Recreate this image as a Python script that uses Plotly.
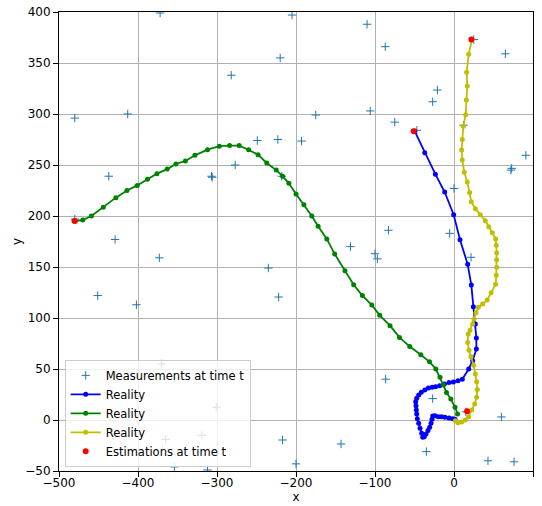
import plotly.graph_objects as go

# Measurements (blue crosses)
meas_x = [-372, -480, -413, -437, -429, -451, -402, -373, -370,
          -307, -306, -282, -277, -249, -223, -220, -205, -193, -175, -218,
          -235, -222, -131, -100, -97, -83, -110, -87, -106, -75, -47, -27, -21,
          65, 25, 12, 91, 73, 72, 0, -5.5, 21.5,
          -86.5, -27, 60, -35, 43, 76, -143, -200, -217, -301, -319, -312,
          -365, -354, -480, 15]
meas_y = [399, 296, 300, 239, 177, 122, 113, 159, 55,
          239, 238, 338, 250, 274, 275, 355, 397, 273.5, 299, 239,
          149, 120.6, 170, 163, 158, 186, 388, 366, 303, 292, 284, 312, 323.5,
          359, 373, 289, 259.5, 246.7, 245, 227, 183, 159.5,
          40, 21, 3, -31, -40, -41, -23.5, -43, -19.6, 12.5, -15, -49,
          -19, -46, 197, 8]

# Reality trajectories
blue_x = [-49.8, -37, -23.6, -11.8, -0.4, 7.6, 17.3, 21.9, 24.5, 27, 28.3, 28.3, 23.6, 18.6,
          10.5, 5, -0.8, -6.3, -12.2, -18.2, -23.3, -27.5, -32.5, -37, -41.4, -44.7, -47.2,
          -48.5, -48.1, -47.7, -47.2, -46.4, -44.7, -43, -40.9, -39.6, -37.6, -35.4, -32.9,
          -30.8, -29.1, -27.8, -27, -24, -19.9, -15.6, -11.4, -6.3, -1.6, 1.3]
blue_y = [283.3, 262, 241, 223.5, 201.3, 176.8, 152.6, 132.4, 111, 94, 80.4, 69.6, 58.2, 50,
          40, 38.6, 37.3, 36.7, 35.3, 33.7, 32.7, 32, 31.4, 29.4, 27.1, 24.5, 21.3,
          18, 14, 9.8, 5.9, 1.3, -3.2, -8.1, -13, -17, -16.3, -13.7, -10.4,
          -7.2, -3.2, 0.7, 4, 4.2, 3.3, 3.3, 2.6, 2, 1.3, 0.7]

green_x = [-481, -470, -459, -444, -428, -414, -401, -388, -376, -363, -352, -340, -328, -312,
           -297, -284, -272, -260, -248, -237, -225, -217, -209, -200, -190, -180, -172, -161,
           -151, -138, -127, -116, -104, -94, -81, -69, -56, -42, -31, -23, -17.7, -13.5,
           -9.5, -4, 1.3, 4.5]
green_y = [195, 196, 200, 208.5, 218, 225, 230, 236, 241.5, 246, 251, 254, 259.5, 265,
           268.5, 269, 269, 265, 260, 252, 245, 239, 232, 221.6, 211, 200, 190, 177.5,
           162.7, 146.4, 132.6, 122, 112.7, 102.6, 92.5, 81, 72, 64, 57, 50, 41.8, 34.3,
           27, 20.5, 12.5, 6]

yellow_x = [1.7, 5, 9.7, 14.3, 18.5, 22.4, 26.2, 28.7, 29.5, 28.7, 27, 24.9, 21.5, 19, 17.3,
            18, 20.3, 23.6, 25.3, 27.8, 30.8, 36.3, 42, 47, 52.7, 53.5, 54, 54, 54, 53.5,
            52.7, 48.5, 44, 39.6, 33.3, 27, 21.9, 19.8, 16.8, 13, 10.5, 9.7, 10.5, 11.8,
            14.8, 15.6, 16.8, 16, 18.6, 22.8]
yellow_y = [-0.7, -2.6, -2, 0, 3.3, 9.8, 15.7, 22.2, 30, 37.6, 45, 53.6, 62, 68.3, 76,
            84.3, 88, 94, 98.7, 105.2, 110.5, 113.7, 117.6, 124.8, 133, 142, 149.7, 157, 164, 171.3,
            177.5, 183.6, 189.5, 195.4, 201.3, 207, 214, 223, 233.3, 243, 254.9, 264.7, 275, 288,
            299.3, 313.7, 327.5, 341, 358.5, 373.2]

# Estimations (red dots)
est_x = [-480, -51, 22, 16.5]
est_y = [195, 283, 373, 8.5]

x_ticks = [-500, -400, -300, -200, -100, 0, 100]
y_ticks = [-50, 0, 50, 100, 150, 200, 250, 300, 350, 400]

fig = go.Figure()
fig.add_trace(go.Scatter(x=meas_x, y=meas_y, mode="markers", name="Measurements at time t",
                         marker=dict(symbol="cross-thin", size=6, color="#1f77b4",
                                     line=dict(width=1, color="#1f77b4"))))
for xs, ys, col in [(blue_x, blue_y, "#0000ff"), (green_x, green_y, "#008000"),
                    (yellow_x, yellow_y, "#bfbf00")]:
    fig.add_trace(go.Scatter(x=xs, y=ys, mode="lines+markers", name="Reality",
                             line=dict(color=col, width=1.8),
                             marker=dict(size=5, color=col)))
fig.add_trace(go.Scatter(x=est_x, y=est_y, mode="markers", name="Estimations at time t",
                         marker=dict(size=6, color="#ff0000")))

axis_common = dict(showline=True, mirror=True, linecolor="black", linewidth=1,
                   ticks="outside", ticklen=5, tickcolor="black", tickwidth=1,
                   showgrid=True, gridcolor="#b0b0b0", gridwidth=1, zeroline=False,
                   automargin=False, tickfont=dict(size=12, color="black"))
fig.update_xaxes(range=[-500, 100], tickvals=x_ticks, ticklabelstandoff=-4,
                 title=dict(text="x", standoff=1, font=dict(size=12, color="black")),
                 **axis_common)
fig.update_yaxes(range=[-50, 400], tickvals=y_ticks,
                 title=dict(text="y", standoff=1, font=dict(size=12, color="black")),
                 **axis_common)

fig.update_layout(
    width=542, height=506,
    margin=dict(l=59, r=9, t=12, b=35),
    paper_bgcolor="white", plot_bgcolor="white",
    font=dict(family="DejaVu Sans", size=12, color="black"),
    showlegend=True,
    legend=dict(x=0.012, y=0.009, xanchor="left", yanchor="bottom",
                bgcolor="rgba(255,255,255,0.8)", bordercolor="#cccccc", borderwidth=1,
                font=dict(size=11.5), tracegroupgap=0, itemwidth=30),
)
fig.write_html("out.html")
